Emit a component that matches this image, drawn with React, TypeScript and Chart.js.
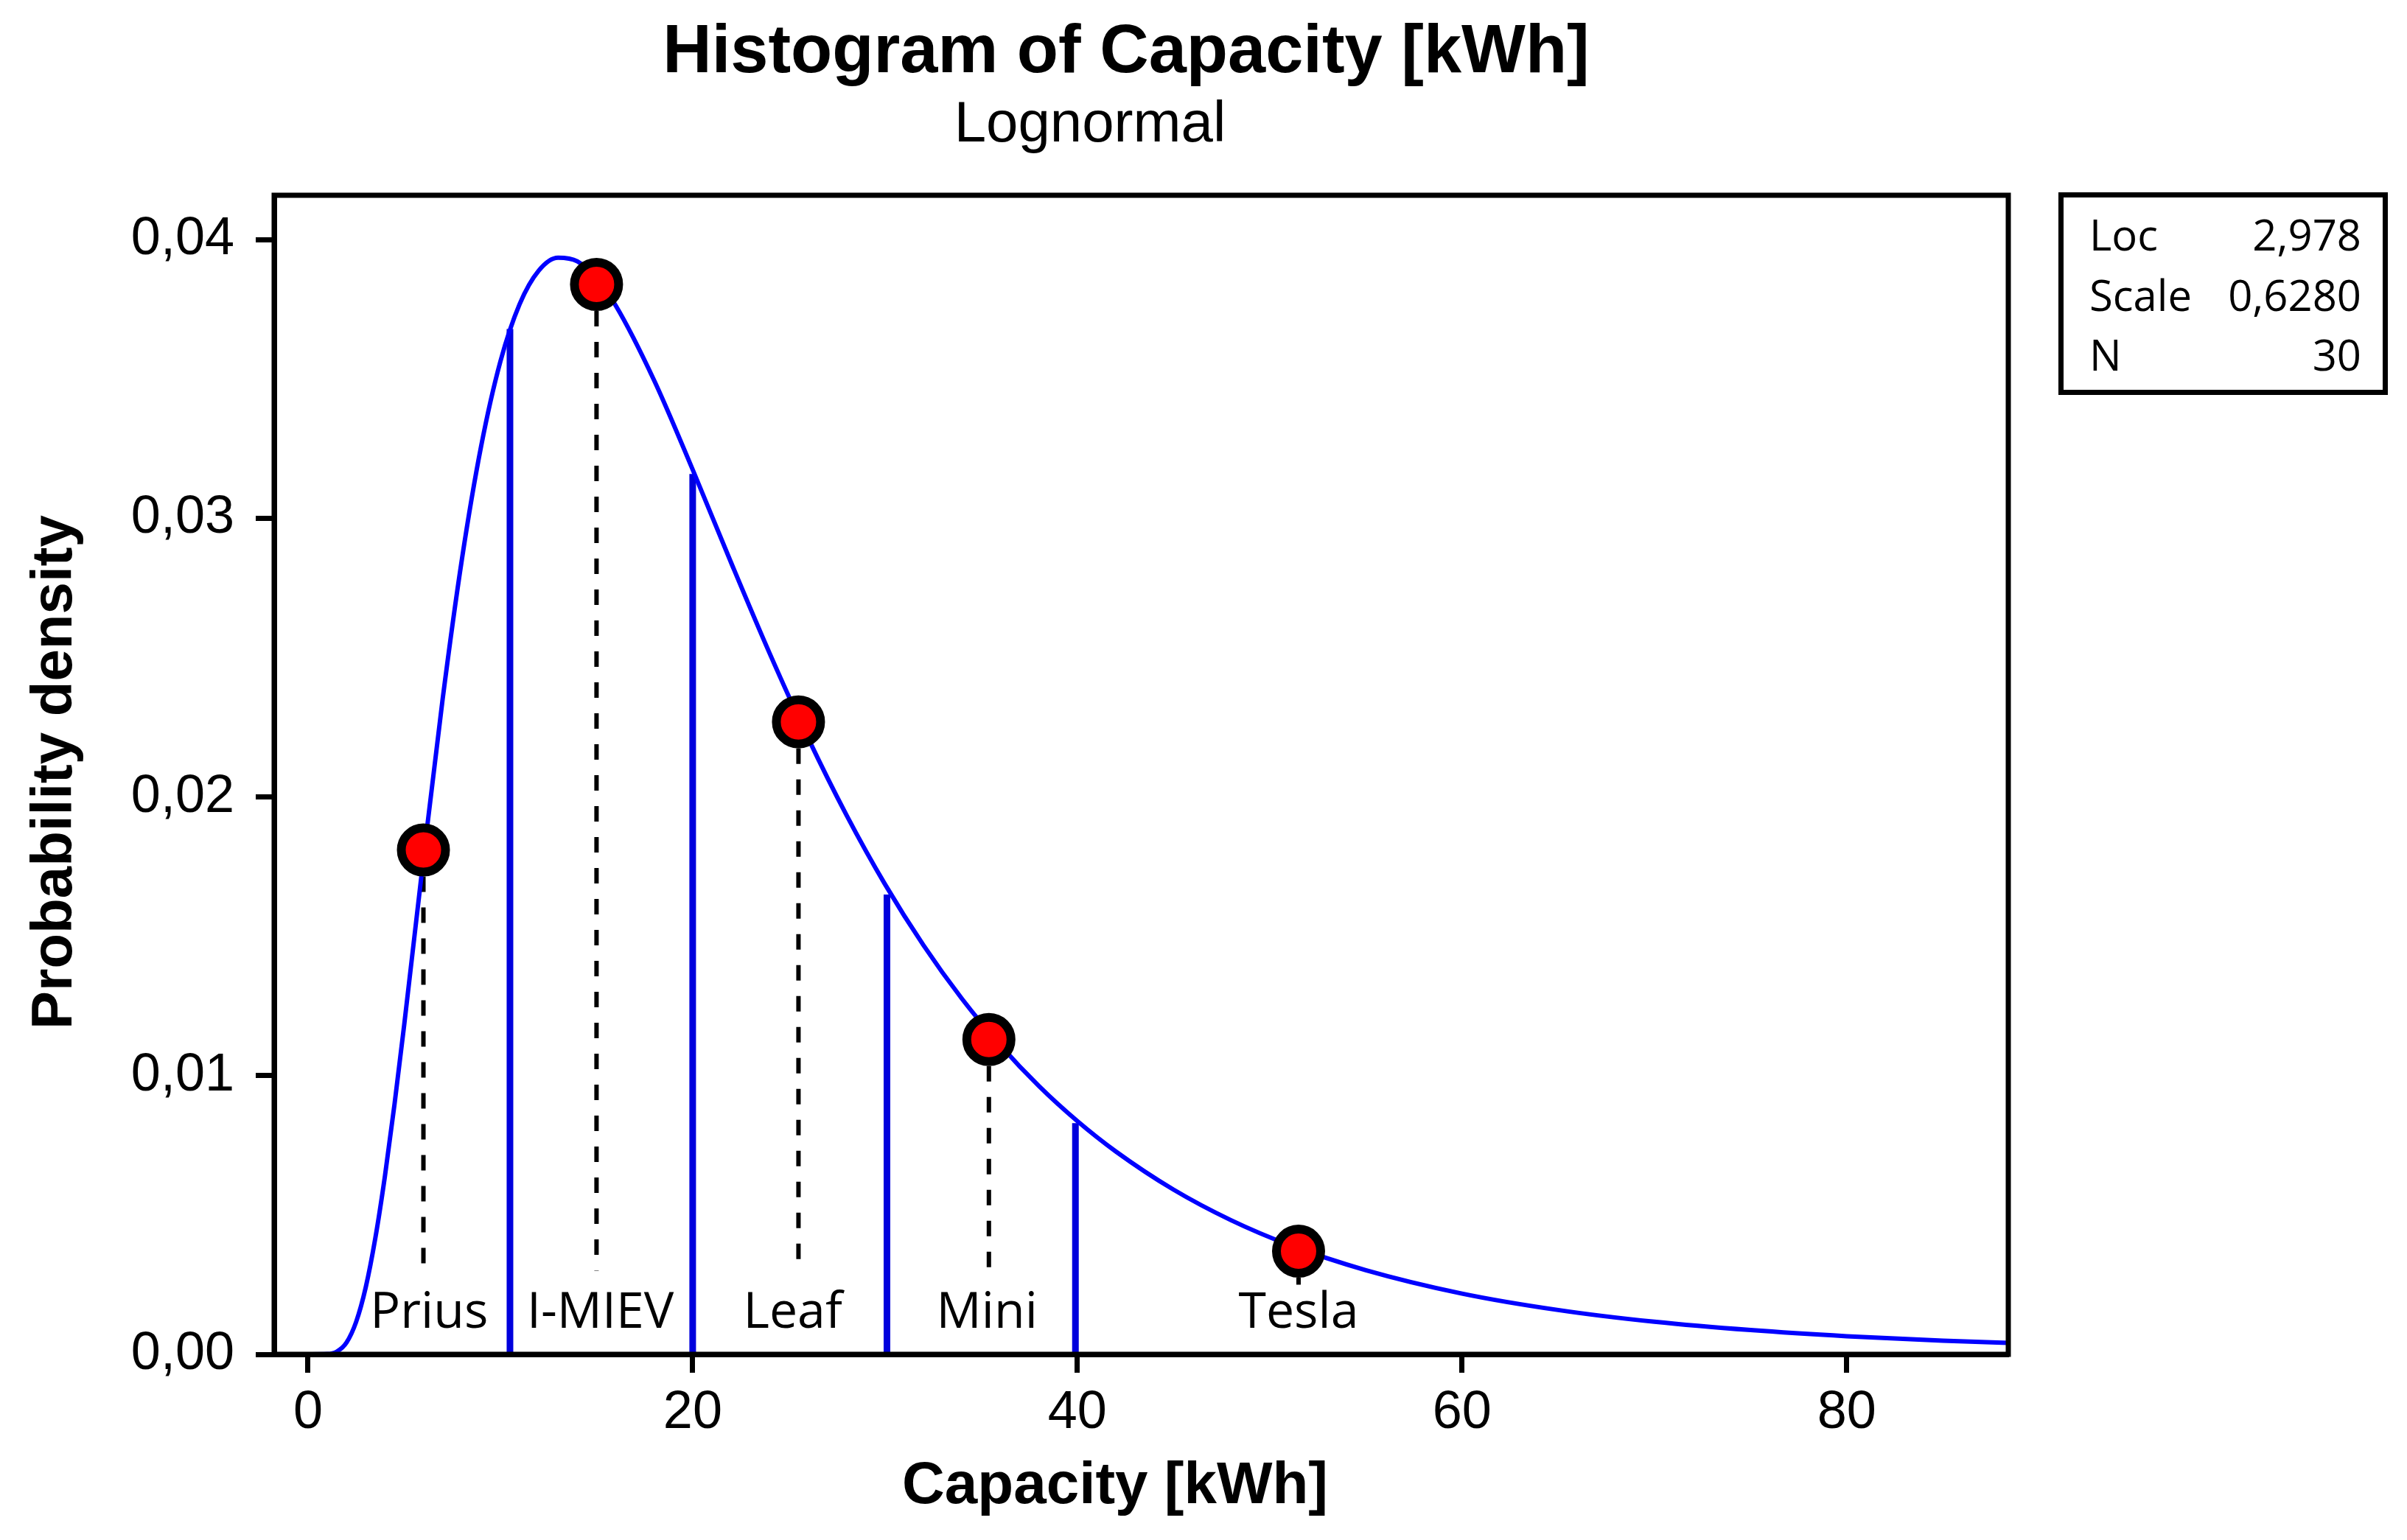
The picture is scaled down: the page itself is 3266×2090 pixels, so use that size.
import React, { useEffect, useRef } from 'react';
import { Chart, registerables } from 'chart.js';

Chart.register(...registerables);

// ---- data ----
const curveX = [0, 1, 1.5, 2, 2.5, 3, 3.5, 4, 4.5, 5, 6, 7, 8, 9, 10, 11, 12, 13, 14, 15, 16, 18, 20, 22, 24, 26, 28, 30, 32, 34, 36, 38, 40, 42, 45, 48, 51, 55, 60, 65, 70, 75, 80, 85, 88.4];
const curveY = [0, 0.00001, 0.0001, 0.00042, 0.00116, 0.0024, 0.00417, 0.0064, 0.00899, 0.01182, 0.01779, 0.02352, 0.02853, 0.03259, 0.03563, 0.03769, 0.0389, 0.03936, 0.03923, 0.03861, 0.03764, 0.03495, 0.03175, 0.02841, 0.02516, 0.02212, 0.01935, 0.01687, 0.01468, 0.01276, 0.01109, 0.00963, 0.00837, 0.00728, 0.00591, 0.00481, 0.00393, 0.00302, 0.00218, 0.00159, 0.00117, 0.00087, 0.00065, 0.00049, 0.00041];

const binEdges = [10.5, 20, 30.1, 39.9];
const binHeights = [0.0368, 0.0316, 0.0165, 0.0083];

const carNames = ['Prius', 'I-MIEV', 'Leaf', 'Mini', 'Tesla'];
const carX = [6.0, 15.0, 25.5, 35.4, 51.5];
const carY = [0.0181, 0.0384, 0.0227, 0.0113, 0.0037];
const labelX = [6.3, 15.2, 25.2, 35.3, 51.5];
const dashBottom = [0.003, 0.003, 0.003, 0.003, 0.0025];
const labelBaseY = 0.00095;

const xTicks = [0, 20, 40, 60, 80];
const yTicks = [0, 0.01, 0.02, 0.03, 0.04];
const xMin = -1.76;
const xMax = 88.4;
const yMin = 0;
const yMax = 0.0416;

const titleText = 'Histogram of Capacity [kWh]';
const subtitleText = 'Lognormal';
const xTitle = 'Capacity [kWh]';
const yTitle = 'Probability density';
const statNames = ['Loc', 'Scale', 'N'];
const statValues = ['2,978', '0,6280', '30'];

const W = 3266;
const H = 2090;

const decorPlugin = {
  id: 'decor',
  afterDatasetsDraw(chart: any) {
    const { ctx, scales } = chart;
    const x = scales.x;
    const y = scales.y;
    ctx.save();
    ctx.fillStyle = '#000';
    ctx.font = '68px "Open Sans"';
    ctx.textAlign = 'center';
    ctx.textBaseline = 'alphabetic';
    carNames.forEach((n, i) => {
      ctx.fillText(n, x.getPixelForValue(labelX[i]), y.getPixelForValue(labelBaseY));
    });
    ctx.restore();
  },
  afterDraw(chart: any) {
    const { ctx, chartArea } = chart;
    ctx.save();
    // frame
    ctx.strokeStyle = '#000';
    ctx.lineWidth = 7;
    ctx.strokeRect(chartArea.left, chartArea.top, chartArea.right - chartArea.left, chartArea.bottom - chartArea.top);

    ctx.fillStyle = '#000';
    ctx.textBaseline = 'alphabetic';
    ctx.textAlign = 'center';
    // title
    ctx.font = 'bold 92px "Liberation Sans"';
    ctx.fillText(titleText, 1528, 98);
    ctx.font = '78px "Liberation Sans"';
    ctx.fillText(subtitleText, 1479, 192);
    // axis titles
    ctx.font = 'bold 80px "Liberation Sans"';
    ctx.fillText(xTitle, 1513, 2040);
    ctx.save();
    ctx.translate(97, 1048);
    ctx.rotate(-Math.PI / 2);
    ctx.font = 'bold 78px "Liberation Sans"';
    ctx.fillText(yTitle, 0, 0);
    ctx.restore();

    // stats box
    ctx.lineWidth = 7;
    ctx.strokeRect(2796.5, 264.5, 440, 268);
    ctx.font = '58px "Open Sans"';
    const rows = [340, 422, 503];
    statNames.forEach((n, i) => {
      ctx.textAlign = 'left';
      ctx.fillText(n, 2835, rows[i]);
      ctx.textAlign = 'right';
      ctx.fillText(statValues[i], 3204, rows[i]);
    });
    ctx.restore();
  },
};

export default function App() {
  const ref = useRef<HTMLCanvasElement | null>(null);

  useEffect(() => {
    if (!ref.current) return;
    const curveData = curveX.map((v, i) => ({ x: v, y: curveY[i] }));
    const barData: any[] = [];
    binEdges.forEach((e, i) => {
      barData.push({ x: e, y: 0 }, { x: e, y: binHeights[i] }, { x: e, y: null });
    });
    const dashData: any[] = [];
    carX.forEach((cx, i) => {
      dashData.push({ x: cx, y: carY[i] }, { x: cx, y: dashBottom[i] }, { x: cx, y: null });
    });
    const dotData = carX.map((cx, i) => ({ x: cx, y: carY[i] }));

    const chart = new Chart(ref.current, {
      type: 'line',
      data: {
        datasets: [
          {
            label: 'cars',
            data: dotData,
            showLine: false,
            pointRadius: 30,
            pointBorderWidth: 12,
            pointBackgroundColor: '#ff0000',
            pointBorderColor: '#000000',
            order: 0,
          },
          {
            label: 'lognormal',
            data: curveData,
            borderColor: '#0000ff',
            borderWidth: 6,
            pointRadius: 0,
            cubicInterpolationMode: 'monotone',
            fill: false,
            order: 1,
          },
          {
            label: 'dash',
            data: dashData,
            borderColor: '#000000',
            borderWidth: 6,
            borderDash: [21, 21],
            borderDashOffset: 6,
            pointRadius: 0,
            spanGaps: false,
            order: 2,
          },
          {
            label: 'bins',
            data: barData,
            borderColor: '#0000dd',
            borderWidth: 9,
            pointRadius: 0,
            spanGaps: false,
            order: 3,
          },
        ],
      } as any,
      options: {
        animation: false,
        responsive: true,
        maintainAspectRatio: false,
        devicePixelRatio: 1,
        layout: { padding: { left: 0, top: 265, right: W - 2725, bottom: 0 } },
        plugins: {
          legend: { display: false },
          tooltip: { enabled: false },
          title: { display: false },
        },
        scales: {
          x: {
            type: 'linear',
            min: xMin,
            max: xMax,
            afterFit: (s: any) => { s.height = H - 1838; },
            afterBuildTicks: (s: any) => { s.ticks = xTicks.map((v) => ({ value: v })); },
            ticks: {
              color: '#000',
              font: { family: '"Liberation Sans"', size: 72 },
              padding: 12,
              maxRotation: 0,
              callback: (v: any) => String(v),
            },
            grid: { display: true, drawOnChartArea: false, drawTicks: true, tickLength: 25, tickWidth: 7, tickColor: '#000', color: '#000' },
            border: { display: true, color: '#000', width: 7 },
          },
          y: {
            type: 'linear',
            min: yMin,
            max: yMax,
            afterFit: (s: any) => { s.width = 372; },
            afterBuildTicks: (s: any) => { s.ticks = yTicks.map((v) => ({ value: v })); },
            ticks: {
              color: '#000',
              font: { family: '"Liberation Sans"', size: 72 },
              padding: 29,
              callback: (v: any) => Number(v).toFixed(2).replace('.', ','),
            },
            grid: { display: true, drawOnChartArea: false, drawTicks: true, tickLength: 25, tickWidth: 7, tickColor: '#000', color: '#000' },
            border: { display: true, color: '#000', width: 7 },
          },
        },
      } as any,
      plugins: [decorPlugin],
    });
    return () => chart.destroy();
  }, []);

  return (
    <div style={{ position: 'fixed', left: 0, top: 0, width: W, height: H, background: '#fff' }}>
      <canvas ref={ref} />
    </div>
  );
}
